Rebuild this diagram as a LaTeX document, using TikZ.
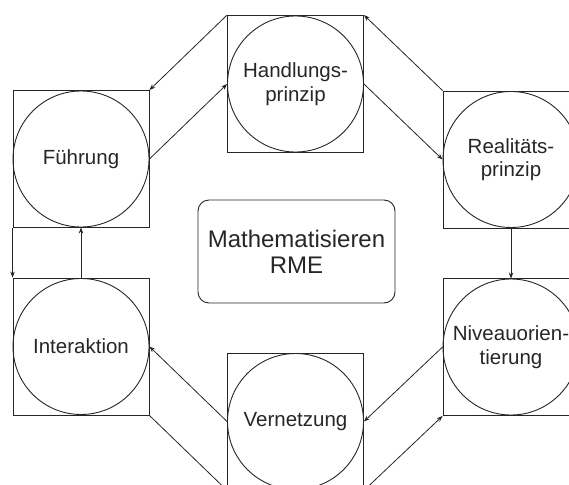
\documentclass[tikz,border=0pt]{standalone}
\usepackage{fontspec}
\setmainfont{Liberation Sans}
\usetikzlibrary{arrows.meta}
\begin{document}
\begin{tikzpicture}[x=1pt,y=-1pt,
  sq/.style={draw=black!85, rectangle, minimum width=136pt, minimum height=137pt, inner sep=0pt, line width=0.9pt},
  circ/.style={draw=black!85, circle, minimum size=136pt, inner sep=0pt, align=center, text=black!85, font=\fontsize{20.5}{23.5}\selectfont, line width=0.9pt},
  conn/.style={draw=black!85, -{Stealth[length=6pt,width=4.5pt]}, line width=0.8pt},
  ]
\useasboundingbox (0,0) rectangle (569,484);
\clip (0,0) rectangle (569,484);
% boxes
\node[sq] (Fb) at (81,159) {};
\node[sq] (Hb) at (295.5,84) {};
\node[sq] (Rb) at (511,159.5) {};
\node[sq] (Ib) at (81,346.5) {};
\node[sq] (Nb) at (511,347) {};
\node[sq] (Vb) at (295.5,421.5) {};
% circles
\node[circ] (F) at (Fb) {Führung};
\node[circ] (H) at (Hb) {Handlungs-\\prinzip};
\node[circ] (R) at (Rb) {Realitäts-\\prinzip};
\node[circ] (I) at (Ib) {Interaktion};
\node[circ] (N) at (Nb) {Niveauorien-\\tierung};
\node[circ] (V) at (Vb) {Vernetzung};
% centre
\node[draw=black!85, text=black!85, rounded corners=11pt, minimum width=197pt, minimum height=103pt, line width=0.9pt, align=center, font=\fontsize{24}{26}\selectfont] (M) at (296.5,251.5) {Mathematisieren\\RME};
% connectors
\draw[conn] (Hb.north west) -- (Fb.north east);
\draw[conn] (F.east) -- (H.west);
\draw[conn] (Rb.north west) -- (Hb.north east);
\draw[conn] (H.east) -- (R.west);
\draw[conn] (R.south) -- (N.north);
\draw[conn] (N.west) -- (V.east);
\draw[conn] (Vb.south east) -- (Nb.south west);
\draw[conn] (V.west) -- (I.east);
\draw[conn] (Ib.south east) -- (Vb.south west);
\draw[conn] (I.north) -- (F.south);
\draw[conn] (Fb.south west) -- (Ib.north west);
\end{tikzpicture}
\end{document}
